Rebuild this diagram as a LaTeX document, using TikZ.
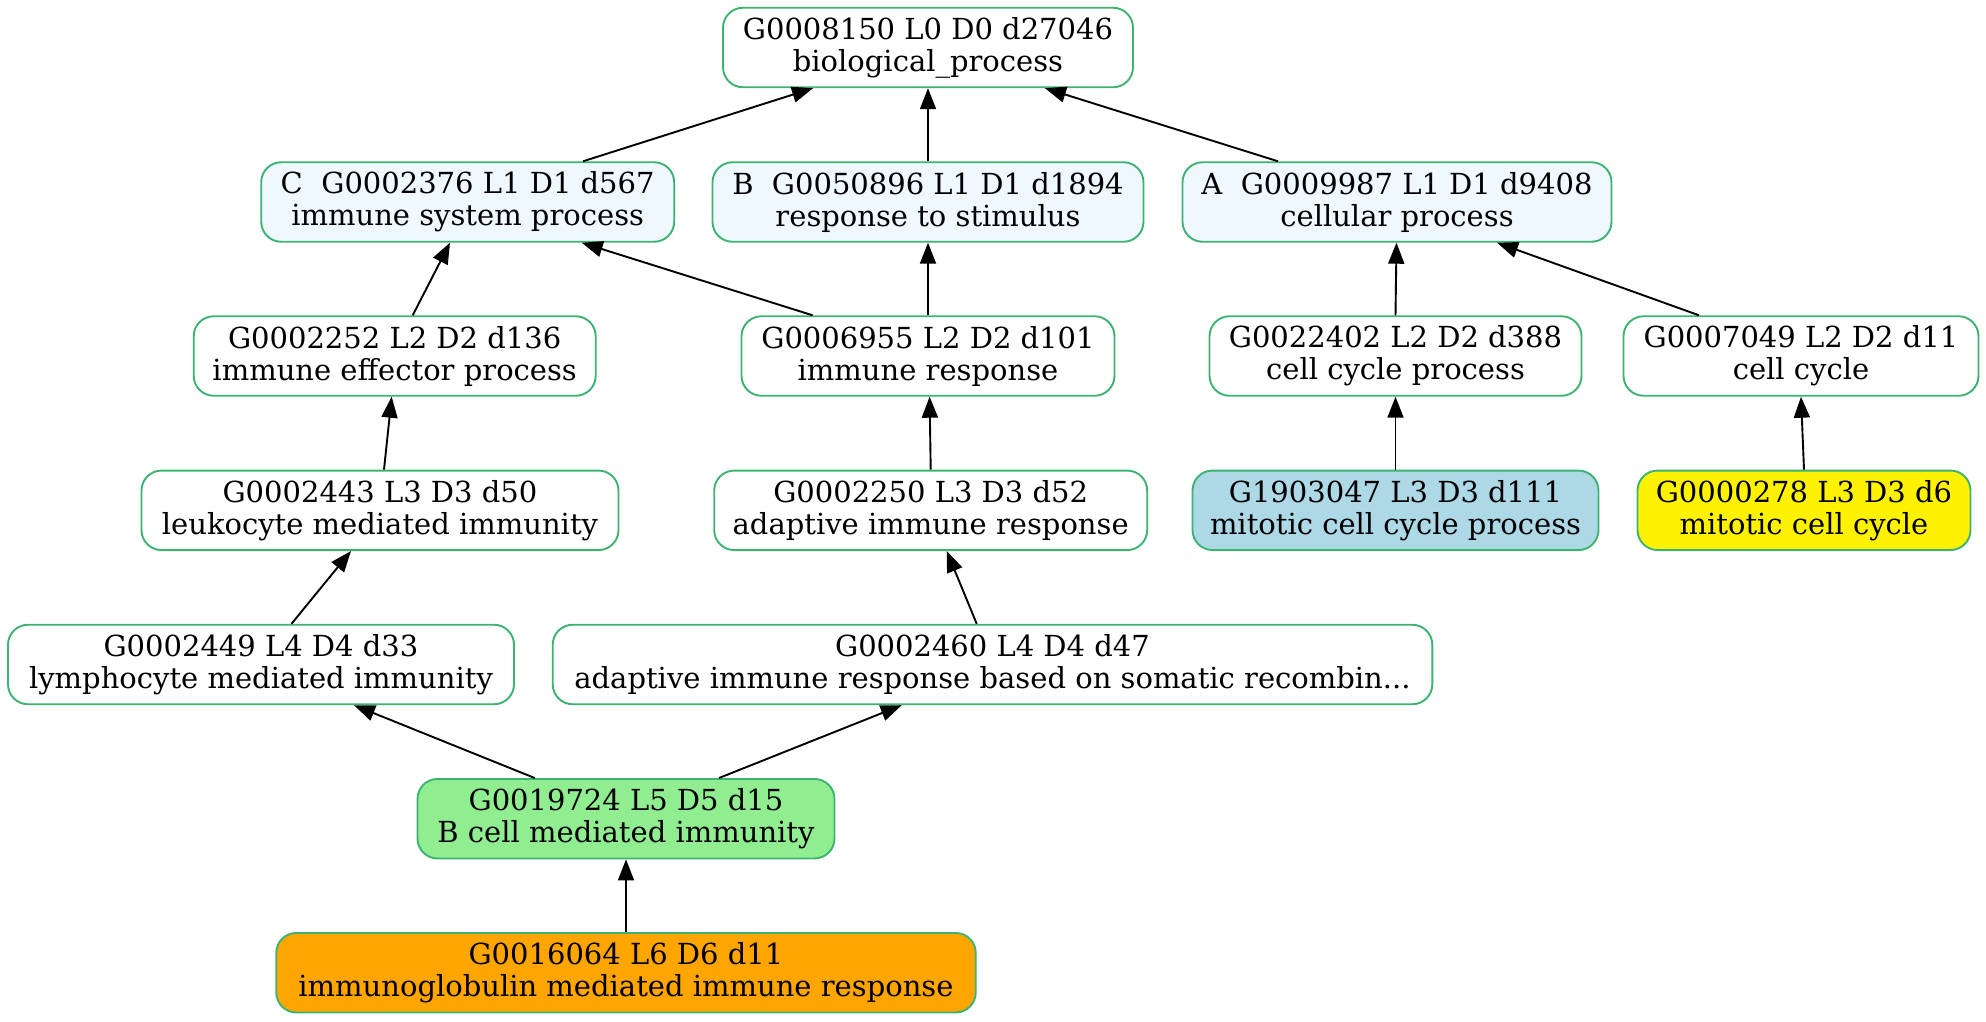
\documentclass[tikz,border=0pt]{standalone}
\usepackage{fontspec}
\setmainfont{DejaVu Serif}
\usetikzlibrary{arrows.meta}
\definecolor{bord}{RGB}{60,179,113}
\definecolor{aliceb}{RGB}{240,248,255}
\definecolor{lblue}{RGB}{173,216,230}
\definecolor{lgreen}{RGB}{144,238,144}
\definecolor{orng}{RGB}{255,165,0}
\tikzset{
  gobox/.style={draw=bord, line width=1.9pt, rounded corners=20pt, fill=white,
    minimum height=79.5pt, inner sep=0pt, align=center,
    font=\fontsize{29}{32}\selectfont},
  arr/.style={line width=1.9pt, -{Triangle[length=21pt,width=16pt]}}
}
\begin{document}
\begin{tikzpicture}[x=1pt,y=-1pt]
\useasboundingbox (0,0) rectangle (1986,1021);
% row 0
\node[gobox, minimum width=410pt] (n8150) at (928,47.5) {G0008150 L0 D0 d27046\\biological\_process};
% row 1
\node[gobox, fill=aliceb, minimum width=413pt] (n2376) at (467.7,202) {C\ \ G0002376 L1 D1 d567\\immune system process};
\node[gobox, fill=aliceb, minimum width=431pt] (n50896) at (928,202) {B\ \ G0050896 L1 D1 d1894\\response to stimulus};
\node[gobox, fill=aliceb, minimum width=429pt] (n9987) at (1397,202) {A\ \ G0009987 L1 D1 d9408\\cellular process};
% row 2
\node[gobox, minimum width=402pt] (n2252) at (394.7,356) {G0002252 L2 D2 d136\\immune effector process};
\node[gobox, minimum width=373pt] (n6955) at (928,356) {G0006955 L2 D2 d101\\immune response};
\node[gobox, minimum width=372pt] (n22402) at (1395.5,356) {G0022402 L2 D2 d388\\cell cycle process};
\node[gobox, minimum width=355pt] (n7049) at (1801,356) {G0007049 L2 D2 d11\\cell cycle};
% row 3
\node[gobox, minimum width=477pt] (n2443) at (380,510.3) {G0002443 L3 D3 d50\\leukocyte mediated immunity};
\node[gobox, minimum width=433pt] (n2250) at (930.7,510.3) {G0002250 L3 D3 d52\\adaptive immune response};
\node[gobox, fill=lblue, minimum width=406pt] (n1903047) at (1395.5,510.3) {G1903047 L3 D3 d111\\mitotic cell cycle process};
\node[gobox, fill=yellow, minimum width=333pt] (n278) at (1804,510.3) {G0000278 L3 D3 d6\\mitotic cell cycle};
% row 4
\node[gobox, minimum width=506pt] (n2449) at (261,664.5) {G0002449 L4 D4 d33\\lymphocyte mediated immunity};
\node[gobox, minimum width=879.6pt] (n2460) at (992.5,664.5) {G0002460 L4 D4 d47\\adaptive immune response based on somatic recombin...};
% row 5
\node[gobox, fill=lgreen, minimum width=417pt] (n19724) at (626,818.7) {G0019724 L5 D5 d15\\B cell mediated immunity};
% row 6
\node[gobox, fill=orng, minimum width=699.5pt] (n16064) at (626,972.7) {G0016064 L6 D6 d11\\immunoglobulin mediated immune response};
% edges (child -> parent)
\draw[arr] ([xshift=115.3pt]n2376.north) -- ([xshift=-115pt]n8150.south);
\draw[arr] (n50896.north) -- (n8150.south);
\draw[arr] ([xshift=-119pt]n9987.north) -- ([xshift=117pt]n8150.south);
\draw[arr] ([xshift=18pt]n2252.north) -- ([xshift=-17.7pt]n2376.south);
\draw[arr] ([xshift=-115.4pt]n6955.north) -- ([xshift=114pt]n2376.south);
\draw[arr] (n6955.north) -- (n50896.south);
\draw[arr] (n22402.north) -- ([xshift=-0.5pt]n9987.south);
\draw[arr] ([xshift=-102pt]n7049.north) -- ([xshift=100pt]n9987.south);
\draw[arr] ([xshift=4pt]n2443.north) -- ([xshift=-3pt]n2252.south);
\draw[arr] (n2250.north) -- ([xshift=1.6pt]n6955.south);
\draw[arr] (n1903047.north) -- (n22402.south);
\draw[arr] (n278.north) -- (n7049.south);
\draw[arr] ([xshift=30.5pt]n2449.north) -- ([xshift=-29pt]n2443.south);
\draw[arr] ([xshift=-15.8pt]n2460.north) -- ([xshift=16pt]n2250.south);
\draw[arr] ([xshift=-91.3pt]n19724.north) -- ([xshift=93pt]n2449.south);
\draw[arr] ([xshift=93pt]n19724.north) -- ([xshift=-90.8pt]n2460.south);
\draw[arr] (n16064.north) -- (n19724.south);
\end{tikzpicture}
\end{document}
